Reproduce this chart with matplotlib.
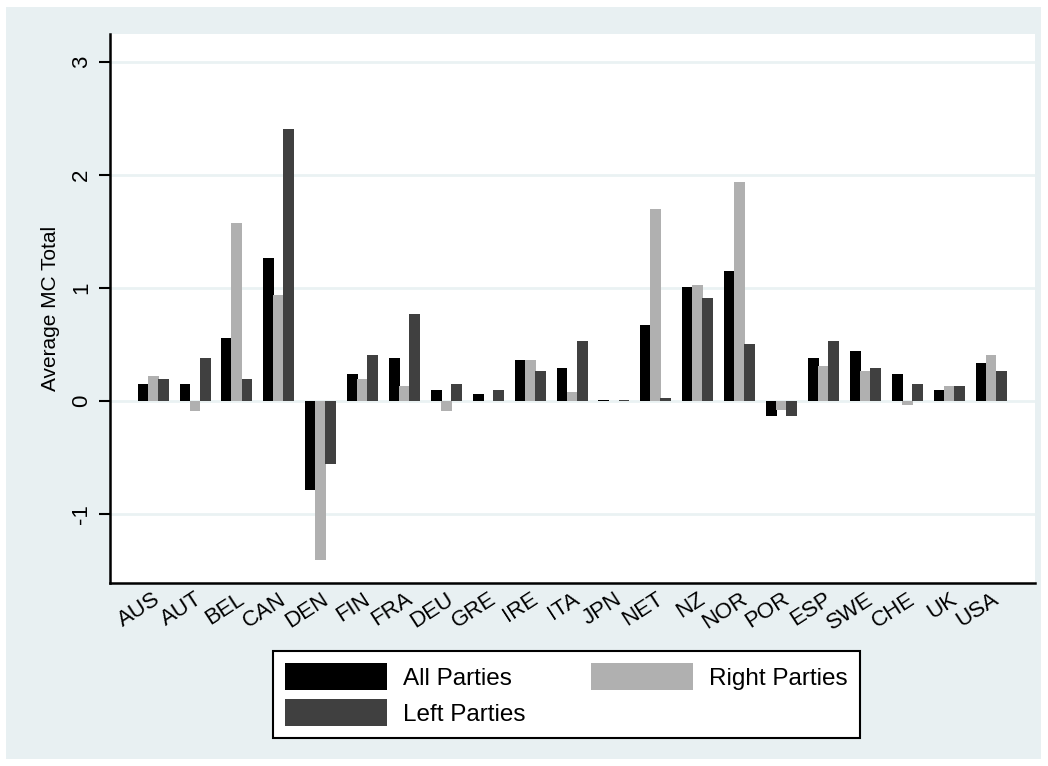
import numpy as np
import matplotlib
matplotlib.use("Agg")
import matplotlib.pyplot as plt
from matplotlib.patches import Rectangle

plt.rcParams['font.family'] = ['Liberation Sans', 'DejaVu Sans']

# country codes along the x axis
countries = ["AUS", "AUT", "BEL", "CAN", "DEN", "FIN", "FRA", "DEU", "GRE", "IRE", "ITA",
             "JPN", "NET", "NZ", "NOR", "POR", "ESP", "SWE", "CHE", "UK", "USA"]

# average MC total per group of parties
all_parties = [0.15, 0.15, 0.56, 1.27, -0.79, 0.24, 0.385, 0.10, 0.06, 0.365, 0.29,
               0.01, 0.675, 1.01, 1.15, -0.13, 0.385, 0.44, 0.24, 0.10, 0.34]
right_parties = [0.22, -0.085, 1.58, 0.94, -1.41, 0.20, 0.13, -0.085, 0.005, 0.365, 0.08,
                 0.0, 1.70, 1.03, 1.94, -0.08, 0.315, 0.27, -0.03, 0.13, 0.41]
left_parties = [0.20, 0.385, 0.20, 2.41, -0.56, 0.41, 0.77, 0.15, 0.10, 0.27, 0.53,
                0.01, 0.03, 0.91, 0.51, -0.13, 0.53, 0.29, 0.15, 0.13, 0.27]

series = [("All Parties", all_parties, "#000000"),
          ("Right Parties", right_parties, "#B0B0B0"),
          ("Left Parties", left_parties, "#404040")]

fig = plt.figure(figsize=(10.48, 7.66), dpi=100)
fig.patch.set_facecolor("white")
# light bluish background behind everything
fig.patches.append(Rectangle((6 / 1048, 7 / 766), 1035 / 1048, 752 / 766,
                             transform=fig.transFigure, facecolor="#E8F0F2",
                             edgecolor="none", zorder=-10))

ax = fig.add_axes([110 / 1048, 1 - 583 / 766, 925 / 1048, 549 / 766])
ax.set_facecolor("white")

x = np.arange(len(countries))
width = 0.26
offsets = [-0.24, 0.0, 0.24]
handles = {}
for (name, vals, col), off in zip(series, offsets):
    handles[name] = ax.bar(x + off, vals, width, color=col, label=name, zorder=3)

ax.set_xlim(-1.03, len(countries) - 1 + 1.05)
ax.set_ylim(-1.61, 3.25)
ax.set_yticks([-1, 0, 1, 2, 3])
ax.set_yticklabels(["-1", "0", "1", "2", "3"], rotation=90, va="center", fontsize=16)
ax.yaxis.grid(True, color="#EAF2F3", linewidth=2, zorder=0)
ax.set_axisbelow(True)

ax.set_xticks(x)
ax.set_xticklabels(countries, rotation=33, ha="right", rotation_mode="anchor", fontsize=16)
ax.tick_params(axis="x", length=0, pad=4)
ax.tick_params(axis="y", length=8, width=1.5, pad=5)

for s in ["top", "right"]:
    ax.spines[s].set_visible(False)
for s in ["left", "bottom"]:
    ax.spines[s].set_linewidth(1.8)

ax.set_ylabel("Average MC Total", fontsize=15, labelpad=8)

# column-major fill: All / Left in first column, Right in second
order = ["All Parties", "Left Parties", "Right Parties"]
leg = fig.legend(handles=[handles[n] for n in order], labels=order,
                 ncol=2, loc="upper left",
                 bbox_to_anchor=(273 / 1048, 1 - 651 / 766),
                 fontsize=17.5, frameon=True, fancybox=False, framealpha=1,
                 handlelength=4.2, handleheight=1.35, handletextpad=0.65,
                 columnspacing=2.7, labelspacing=0.35, borderpad=0.5,
                 borderaxespad=0)
leg.get_frame().set_edgecolor("black")
leg.get_frame().set_linewidth(1.5)
leg.get_frame().set_facecolor("white")

fig.savefig("out.png", dpi=100)
